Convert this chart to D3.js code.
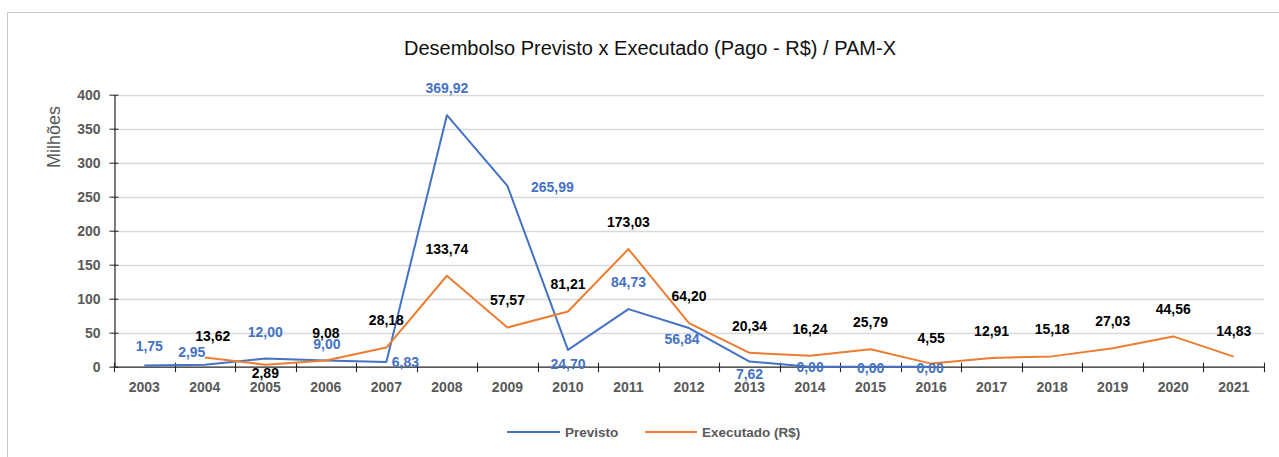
<!DOCTYPE html>
<html>
<head>
<meta charset="utf-8">
<script src="https://cdn.jsdelivr.net/npm/d3@7"></script>
<style>
  html, body { margin: 0; padding: 0; background: #fff; }
  svg { display: block; font-family: "Liberation Sans", Arial, sans-serif; }
</style>
</head>
<body>
<script>
// ---- data ----
const years = ["2003","2004","2005","2006","2007","2008","2009","2010","2011","2012","2013","2014","2015","2016","2017","2018","2019","2020","2021"];
const previsto = [1.75, 2.95, 12.00, 9.00, 6.83, 369.92, 265.99, 24.70, 84.73, 56.84, 7.62, 0.00, 0.00, 0.00, null, null, null, null, null];
const executado = [null, 13.62, 2.89, 9.08, 28.18, 133.74, 57.57, 81.21, 173.03, 64.20, 20.34, 16.24, 25.79, 4.55, 12.91, 15.18, 27.03, 44.56, 14.83];
const yTicks = [0, 50, 100, 150, 200, 250, 300, 350, 400];
const seriesNames = ["Previsto", "Executado (R$)"];
const title = "Desembolso Previsto x Executado (Pago - R$) / PAM-X";
const yTitle = "Milhões";

// label placement (offset of label centre from its point, px)
const prevLabelOffset = [[5,-19],[-13,-13],[0,-26],[1,-16],[19,0],[0,-27],[45,1.5],[0,14],[0,-27],[-7,11],[0,12.5],[0,0.5],[0,1.5],[-1,1.5]];
const execLabelOffset = [null,[8,-21],[0,8.6],[0,-27],[0,-27],[0,-27],[0,-27],[0,-27],[0,-27],[0,-27],[0,-27],[0,-27],[0,-27],[0,-26],[0,-27],[0,-27],[0,-27],[0,-27],[0,-26]];

const W = 1279, H = 457;
const colors = ["#4472C4", "#ED7D31"];
const grey = "#595959";

const svg = d3.select("body").append("svg").attr("width", W).attr("height", H);

// outer frame
svg.append("path").attr("d", `M7.5,${H} V12.5 H${W}`).attr("fill","none").attr("stroke","#c8c8c8").attr("stroke-width",1);

const x = d3.scaleBand().domain(years).range([114, 1264]);
const y = d3.scaleLinear().domain([0, 400]).range([366.7, 94.7]);

// gridlines
svg.append("g").selectAll("line").data(yTicks.filter(d => d > 0)).join("line")
  .attr("x1", 114).attr("x2", 1264)
  .attr("y1", d => Math.round(y(d)) + 0.5).attr("y2", d => Math.round(y(d)) + 0.5)
  .attr("stroke", "#d9d9d9").attr("stroke-width", 1.3);

// y axis
const yAxis = svg.append("g").attr("transform", "translate(114.5,0)")
  .call(d3.axisLeft(y).tickValues(yTicks).tickSize(5).tickSizeOuter(0).tickFormat(d3.format("d")));
yAxis.select(".domain").attr("stroke", "#222").attr("stroke-width", 1.2);
yAxis.selectAll(".tick line").attr("x2", 4).attr("x1", -5).attr("stroke", "#222");
yAxis.selectAll(".tick text").attr("x", -14).attr("fill", grey)
  .style("font-size", "14px").style("font-weight", "bold").style("font-family", "Liberation Sans, Arial, sans-serif");

// x axis
const xAxis = svg.append("g").attr("transform", `translate(0,${y(0)})`)
  .call(d3.axisBottom(x).tickSize(0).tickSizeOuter(0));
xAxis.select(".domain").attr("stroke", "#222").attr("stroke-width", 1.2);
xAxis.selectAll(".tick text").attr("y", 15).attr("dy", "0.71em").attr("fill", grey)
  .style("font-size", "14px").style("font-weight", "bold").style("font-family", "Liberation Sans, Arial, sans-serif");
// category boundary ticks
const bounds = years.map(d => x(d)).concat([x(years[years.length-1]) + x.bandwidth()]);
svg.append("g").selectAll("line").data(bounds).join("line")
  .attr("x1", d => Math.round(d) + 0.5).attr("x2", d => Math.round(d) + 0.5)
  .attr("y1", y(0) - 4).attr("y2", y(0) + 5.5)
  .attr("stroke", "#222").attr("stroke-width", 1.1);

// y title
svg.append("text").attr("transform", "translate(54,137) rotate(-90)")
  .attr("text-anchor", "middle").attr("dy", "0.35em")
  .attr("fill", grey).style("font-size", "18px").text(yTitle);

// title
svg.append("text").attr("x", 650).attr("y", 48).attr("text-anchor", "middle").attr("dy", "0.35em")
  .attr("fill", "#111").style("font-size", "20px").text(title);

// lines
const cx = d => x(d) + x.bandwidth() / 2;
const seriesData = [previsto, executado];
const offsets = [prevLabelOffset, execLabelOffset];
const labelColors = ["#4472C4", "#000"];
const fmt = v => v.toFixed(2).replace(".", ",");

seriesData.forEach((vals, si) => {
  const pts = years.map((yr, i) => ({ yr, v: vals[i], i }));
  const line = d3.line().defined(d => d.v !== null).x(d => cx(d.yr)).y(d => y(d.v));
  svg.append("path").datum(pts).attr("d", line)
    .attr("fill", "none").attr("stroke", colors[si]).attr("stroke-width", 2)
    .attr("stroke-linejoin", "round");
});

seriesData.forEach((vals, si) => {
  const pts = years.map((yr, i) => ({ yr, v: vals[i], i })).filter(d => d.v !== null);
  svg.append("g").selectAll("text").data(pts).join("text")
    .attr("x", d => cx(d.yr) + offsets[si][d.i][0])
    .attr("y", d => y(d.v) + offsets[si][d.i][1])
    .attr("dy", "0.35em").attr("text-anchor", "middle")
    .attr("fill", labelColors[si])
    .style("font-size", "14px").style("font-weight", "bold")
    .text(d => fmt(d.v));
});

// legend
const legendItems = [
  { name: seriesNames[0], color: colors[0], x1: 507, x2: 560, tx: 565 },
  { name: seriesNames[1], color: colors[1], x1: 645, x2: 697, tx: 702 }
];
const lg = svg.append("g");
legendItems.forEach(it => {
  lg.append("line").attr("x1", it.x1).attr("x2", it.x2).attr("y1", 432).attr("y2", 432)
    .attr("stroke", it.color).attr("stroke-width", 2);
  lg.append("text").attr("x", it.tx).attr("y", 432).attr("dy", "0.35em")
    .attr("fill", grey).style("font-size", "13.5px").style("font-weight", "bold").text(it.name);
});
</script>
</body>
</html>
